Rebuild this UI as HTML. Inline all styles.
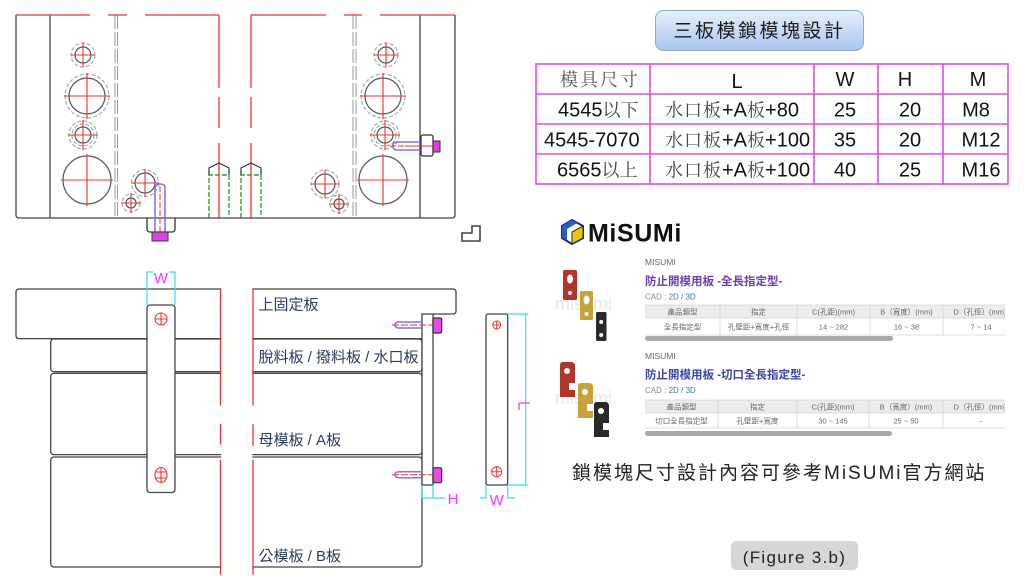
<!DOCTYPE html>
<html><head><meta charset="utf-8">
<style>
html,body{margin:0;padding:0;background:#fff;}
svg{display:block;}
.cj{font-family:"Liberation Sans","Noto Sans CJK TC",sans-serif;}
.sf{font-family:"Noto Serif CJK SC",serif;}
.sa{font-family:"Liberation Sans",sans-serif;}
</style></head>
<body>
<svg width="1024" height="576" viewBox="0 0 1024 576" xmlns="http://www.w3.org/2000/svg">
<defs>
<linearGradient id="btn" x1="0" y1="0" x2="0" y2="1">
<stop offset="0" stop-color="#e6f0fc"/><stop offset="1" stop-color="#a9c5ee"/>
</linearGradient>
<clipPath id="tc"><rect x="640" y="300" width="365" height="140"/></clipPath>
</defs>

<!-- ============ TOP DRAWING ============ -->
<g fill="none" stroke="#999" stroke-width="1" stroke-dasharray="14 3">
<line x1="115" y1="15" x2="115" y2="218"/><line x1="117.5" y1="15" x2="117.5" y2="218"/>
<line x1="353" y1="15" x2="353" y2="218"/><line x1="356" y1="15" x2="356" y2="218"/>
</g>
<g fill="none" stroke="#444" stroke-width="1.3">
<path d="M16,15 V215 Q16,218 19,218 H452 Q455,218 455,215 V15"/>
<line x1="50" y1="15" x2="50" y2="218"/>
<line x1="420" y1="15" x2="420" y2="218"/>
<path d="M462,233 H472 V226 H480 V241 H462 Z" stroke-width="1.6"/>
</g>
<g stroke="#f03030" stroke-width="1.3" fill="none">
<line x1="16" y1="15" x2="90" y2="15"/><line x1="108" y1="15" x2="127" y2="15"/><line x1="145" y1="15" x2="219" y2="15"/>
<line x1="251" y1="15" x2="326" y2="15"/><line x1="344" y1="15" x2="362" y2="15"/><line x1="380" y1="15" x2="455" y2="15"/>
<line x1="219" y1="15" x2="219" y2="88"/><line x1="219" y1="97" x2="219" y2="128"/><line x1="219" y1="143" x2="219" y2="218"/>
<line x1="251" y1="15" x2="251" y2="88"/><line x1="251" y1="97" x2="251" y2="128"/><line x1="251" y1="143" x2="251" y2="218"/>
</g>
<!-- circles -->
<g fill="none">
<g stroke="#aaa" stroke-width="1.2" stroke-dasharray="4 2">
<circle cx="83" cy="55" r="12"/><circle cx="87" cy="96" r="22"/><circle cx="83" cy="135" r="14"/><circle cx="83" cy="135" r="11"/>
<circle cx="145" cy="183" r="13.5"/><circle cx="131" cy="203" r="9"/>
<circle cx="386" cy="55" r="12"/><circle cx="383" cy="96" r="22"/><circle cx="385" cy="135" r="14"/><circle cx="385" cy="135" r="11"/>
<circle cx="325" cy="184" r="14"/><circle cx="339" cy="204" r="9"/>
</g>
<g stroke="#555" stroke-width="1.2">
<circle cx="83" cy="55" r="8"/><circle cx="87" cy="96" r="18"/><circle cx="83" cy="135" r="8"/><circle cx="87" cy="180" r="24"/>
<circle cx="145" cy="183" r="10"/><circle cx="131" cy="203" r="5"/>
<circle cx="386" cy="55" r="8"/><circle cx="383" cy="96" r="18"/><circle cx="385" cy="135" r="8"/><circle cx="383" cy="180" r="24"/>
<circle cx="325" cy="184" r="10"/><circle cx="339" cy="204" r="5"/>
</g>
<g stroke="#f03030" stroke-width="1.1">
<path d="M71,55H95M83,43V67"/><path d="M64,96H110M87,73V119"/><path d="M68,135H98M83,120V150"/><path d="M61,180H113M87,154V206"/>
<path d="M131,183H159M145,169V197"/><path d="M121,203H141M131,193V213"/>
<path d="M374,55H398M386,43V67"/><path d="M360,96H406M383,73V119"/><path d="M370,135H400M385,120V150"/><path d="M357,180H409M383,154V206"/>
<path d="M311,184H339M325,170V198"/><path d="M329,204H349M339,194V214"/>
</g>
</g>
<!-- left bolt -->
<g fill="none">
<path d="M155,232 V188 Q155,184 160,184 Q165,184 165,188 V232" stroke="#8a70e8" stroke-width="1.6"/>
<line x1="160" y1="186" x2="160" y2="240" stroke="#f03030" stroke-width="1" stroke-dasharray="6 2"/>
<path d="M147,218 V229 Q147,232 150,232 H172 Q175,232 175,229 V218" stroke="#333" stroke-width="1.3"/>
<rect x="152" y="232" width="16" height="9" fill="#e040e0" stroke="#333" stroke-width="1"/>
</g>
<!-- right bolt -->
<g fill="none">
<path d="M421,142 H397 Q393,142 393,146 Q393,150 397,150 H421" stroke="#8a70e8" stroke-width="1.6"/>
<line x1="390" y1="146" x2="440" y2="146" stroke="#f03030" stroke-width="1" stroke-dasharray="6 2"/>
<rect x="421" y="135" width="12" height="21" rx="2" stroke="#333" stroke-width="1.3" fill="#fff"/>
<line x1="405" y1="146" x2="433" y2="146" stroke="#f03030" stroke-width="1"/>
<rect x="433" y="141" width="7" height="11" fill="#e040e0" stroke="#333" stroke-width="1"/>
</g>
<!-- drill holes -->
<g fill="none">
<g stroke="#2aa82a" stroke-width="1.4" stroke-dasharray="5 2">
<path d="M209,218 V175 H229 V218"/><path d="M241,218 V175 H261 V218"/>
</g>
<g stroke="#333" stroke-width="1.2">
<path d="M209,175 V168 L219,163 L229,168 V175"/><path d="M241,175 V168 L251,163 L261,168 V175"/>
</g>
</g>

<!-- ============ BOTTOM DRAWING ============ -->
<g fill="none" stroke="#444" stroke-width="1.3">
<path d="M433,314 H453 Q456,314 456,311 V292 Q456,289 453,289 H19 Q16,289 16,292 V335.6 Q16,338.6 19,338.6 H422"/>
<rect x="50.7" y="339" width="371.3" height="32.7" rx="3"/>
<rect x="50.7" y="373.4" width="371.3" height="81.2" rx="3"/>
<rect x="50.7" y="457" width="371.3" height="110" rx="3"/>
</g>
<rect x="221.3" y="280" width="31" height="296" fill="#fff"/>
<g stroke="#f03030" stroke-width="1.3">
<line x1="220.5" y1="289" x2="220.5" y2="405.6"/><line x1="220.5" y1="424" x2="220.5" y2="444.5"/><line x1="220.5" y1="459.7" x2="220.5" y2="574.6"/>
<line x1="253" y1="289" x2="253" y2="405.6"/><line x1="253" y1="424" x2="253" y2="446"/><line x1="253" y1="459.7" x2="253" y2="574.6"/>
</g>
<!-- vertical lock block -->
<rect x="147" y="305" width="28" height="187.5" rx="3" fill="#fff" stroke="#444" stroke-width="1.3"/>
<g fill="none" stroke="#f03030" stroke-width="1.1">
<circle cx="161" cy="319" r="6"/><path d="M155,319H167M161,313V325"/>
<ellipse cx="161" cy="475" rx="6" ry="7.5"/><path d="M155,472H167M155,478H167M161,467.5V482.5"/>
</g>
<!-- W dim top -->
<g stroke="#2ee0f0" stroke-width="1.2" fill="none">
<path d="M147,305 V272 H153"/><path d="M175,305 V272 H169"/>
</g>
<text x="161" y="283" text-anchor="middle" class="sa" font-size="15" fill="#ff30ff">W</text>
<!-- labels -->
<g class="cj" font-size="15" fill="#2c3b5c">
<text x="258.5" y="309.5">上固定板</text>
<text x="258.5" y="362">脫料板 / 撥料板 / 水口板</text>
<text x="258.5" y="445">母模板 / A板</text>
<text x="258.5" y="561">公模板 / B板</text>
</g>
<!-- side block -->
<rect x="422" y="314" width="11" height="171" fill="#fff" stroke="#444" stroke-width="1.3"/>
<g fill="none">
<path d="M422,322 H399 Q395,322 395,325 Q395,328 399,328 H422" stroke="#8a70e8" stroke-width="1.5"/>
<line x1="392" y1="325" x2="441" y2="325" stroke="#f03030" stroke-width="1" stroke-dasharray="7 2"/>
<rect x="433" y="318" width="8.7" height="15" rx="1.5" fill="#e84ae8" stroke="#333" stroke-width="1.2"/>
<path d="M422,471.7 H399 Q395,471.7 395,474.7 Q395,477.7 399,477.7 H422" stroke="#8a70e8" stroke-width="1.5"/>
<line x1="392" y1="474.7" x2="441" y2="474.7" stroke="#f03030" stroke-width="1" stroke-dasharray="7 2"/>
<rect x="433" y="467.7" width="8.7" height="15" rx="1.5" fill="#e84ae8" stroke="#333" stroke-width="1.2"/>
</g>
<g stroke="#2ee0f0" stroke-width="1.2" fill="none">
<path d="M422,485 V498 H445"/><path d="M433,485 V498"/>
</g>
<text x="453" y="504" text-anchor="middle" class="sa" font-size="15" fill="#ff30ff">H</text>
<!-- front view block -->
<rect x="486" y="314" width="21.7" height="171" rx="2" fill="#fff" stroke="#444" stroke-width="1.3"/>
<g fill="none" stroke="#f03030" stroke-width="1">
<circle cx="496.7" cy="325" r="4"/><path d="M492.7,325H500.7M496.7,321V329"/>
<circle cx="496.7" cy="471.7" r="5"/><path d="M491.7,471.7H501.7M496.7,466.7V476.7"/>
</g>
<g stroke="#2ee0f0" stroke-width="1.2" fill="none">
<path d="M507.7,314 H528 M507.7,485 H528 M525.7,314 V485"/>
<path d="M486,485 V498 H480 M507.7,485 V498 H515"/>
</g>
<g stroke="#ff30ff" stroke-width="1.3" fill="none"><path d="M519,403 H530 M519,403 V410"/></g>
<text x="496.7" y="505" text-anchor="middle" class="sa" font-size="15" fill="#ff30ff">W</text>

<!-- ============ TITLE BUTTON ============ -->
<rect x="655.5" y="10.5" width="208" height="40" rx="8" fill="url(#btn)" stroke="#8aa9d6" stroke-width="1"/>
<text x="759.5" y="37" text-anchor="middle" class="cj" font-size="19" letter-spacing="2.5" fill="#1a1a1a">三板模鎖模塊設計</text>

<!-- ============ PINK TABLE ============ -->
<g stroke="#e24de2" stroke-width="1.6" fill="none">
<rect x="536" y="64" width="472" height="120"/>
<line x1="536" y1="94" x2="1008" y2="94"/><line x1="536" y1="124" x2="1008" y2="124"/><line x1="536" y1="154" x2="1008" y2="154"/>
<line x1="650" y1="64" x2="650" y2="184"/><line x1="814" y1="64" x2="814" y2="184"/><line x1="878" y1="64" x2="878" y2="184"/><line x1="943" y1="64" x2="943" y2="184"/>
</g>
<text x="560" y="86" class="sf" font-size="18" letter-spacing="2" fill="#555">模具尺寸</text>
<g class="sa" font-size="20" fill="#111" text-anchor="middle">
<text x="737" y="88">L</text><text x="845" y="86">W</text><text x="905" y="86">H</text><text x="978" y="86">M</text>
<text x="845" y="116.5">25</text><text x="910" y="116.5">20</text><text x="976" y="116.5">M8</text>
<text x="845" y="146.5">35</text><text x="910" y="146.5">20</text><text x="981" y="146.5">M12</text>
<text x="845" y="176.5">40</text><text x="910" y="176.5">25</text><text x="981" y="176.5">M16</text>
</g>
<g font-size="20" fill="#111">
<text x="558" y="116.5"><tspan class="sa">4545</tspan><tspan class="sf" font-size="18" fill="#444">以下</tspan></text>
<text x="544" y="146.5" class="sa">4545-7070</text>
<text x="557" y="176.5"><tspan class="sa">6565</tspan><tspan class="sf" font-size="18" fill="#444">以上</tspan></text>
<text x="665" y="116.5"><tspan class="sf" font-size="18" letter-spacing="1" fill="#444">水口板</tspan><tspan class="sa">+A</tspan><tspan class="sf" font-size="18" fill="#444">板</tspan><tspan class="sa">+80</tspan></text>
<text x="665" y="146.5"><tspan class="sf" font-size="18" letter-spacing="1" fill="#444">水口板</tspan><tspan class="sa">+A</tspan><tspan class="sf" font-size="18" fill="#444">板</tspan><tspan class="sa">+100</tspan></text>
<text x="665" y="176.5"><tspan class="sf" font-size="18" letter-spacing="1" fill="#444">水口板</tspan><tspan class="sa">+A</tspan><tspan class="sf" font-size="18" fill="#444">板</tspan><tspan class="sa">+100</tspan></text>
</g>

<!-- ============ MISUMI ============ -->
<polygon points="562,226 572,220 583,226 583,238 572,244 562,238" fill="#fff" stroke="#1d2a6b" stroke-width="2"/>
<polygon points="562,226 572,220 577,223 567,229" fill="#2a5cc8"/>
<polygon points="562,226 567,229 567,240 562,238" fill="#2a5cc8"/>
<polygon points="572,232 583,226 583,238 572,244" fill="#f2c500" stroke="#1d2a6b" stroke-width="1"/>
<text x="588" y="241.5" class="sa" font-size="25" font-weight="bold" letter-spacing="0.6" fill="#111">MiSUMi</text>

<!-- product 1 image -->
<text x="555" y="310" class="sa" font-size="18" fill="#e8e8e8">misumi</text>
<rect x="563" y="270" width="14" height="30" rx="1.5" fill="#b5342a"/>
<ellipse cx="570" cy="279" rx="3" ry="4.5" fill="#fff"/><circle cx="570" cy="293" r="2" fill="#fff"/>
<rect x="580" y="291" width="13" height="29" rx="1.5" fill="#c9a13a"/>
<ellipse cx="586.5" cy="300" rx="3" ry="4.5" fill="#fff"/><circle cx="586.5" cy="314" r="2" fill="#fff"/>
<rect x="596" y="312" width="10.5" height="29" rx="1.5" fill="#2a2a2a"/>
<circle cx="601.2" cy="322" r="2" fill="#fff"/><circle cx="601.2" cy="335" r="2" fill="#fff"/>

<!-- product 2 image -->
<text x="555" y="404" class="sa" font-size="18" fill="#e8e8e8">misumi</text>
<path d="M560,365 Q560,362 563,362 H571 Q575,362 575,366 V383 H569 V390 H575 V397 H560 Z" fill="#b5342a"/>
<circle cx="567" cy="371" r="3" fill="#fff"/>
<path d="M578,386 Q578,383 581,383 H589 Q593,383 593,387 V404 H587 V411 H593 V418 H578 Z" fill="#c9a13a"/>
<circle cx="585" cy="392" r="3" fill="#fff"/>
<path d="M594,405 Q594,402 597,402 H605 Q609,402 609,406 V423 H603 V430 H609 V437 H594 Z" fill="#2a2a2a"/>
<circle cx="601" cy="411" r="3" fill="#fff"/>

<!-- product 1 text -->
<g class="cj">
<text x="645" y="265" font-size="8.5" fill="#666">MISUMI</text>
<text x="645" y="285" font-size="11.5" font-weight="bold" fill="#6a3fb5">防止開模用板 -全長指定型-</text>
<text x="645" y="299.5" font-size="8" fill="#888">CAD : <tspan fill="#3a6fc0">2D / 3D</tspan></text>
<text x="645" y="359" font-size="8.5" fill="#666">MISUMI</text>
<text x="645" y="378.5" font-size="11.5" font-weight="bold" fill="#3d46a8">防止開模用板 -切口全長指定型-</text>
<text x="645" y="393" font-size="8" fill="#888">CAD : <tspan fill="#3a6fc0">2D / 3D</tspan></text>
</g>
<g clip-path="url(#tc)">
<rect x="645" y="305" width="365" height="13" fill="#ececec"/>
<rect x="645" y="400" width="365" height="13" fill="#ececec"/>
<g stroke="#d2d2d2" stroke-width="0.8">
<line x1="645" y1="305" x2="1010" y2="305"/><line x1="645" y1="318" x2="1010" y2="318"/><line x1="645" y1="335" x2="1010" y2="335"/>
<line x1="720" y1="305" x2="720" y2="335"/><line x1="797" y1="305" x2="797" y2="335"/><line x1="870" y1="305" x2="870" y2="335"/><line x1="943" y1="305" x2="943" y2="335"/>
<line x1="645" y1="400" x2="1010" y2="400"/><line x1="645" y1="413" x2="1010" y2="413"/><line x1="645" y1="428" x2="1010" y2="428"/>
<line x1="718" y1="400" x2="718" y2="428"/><line x1="797" y1="400" x2="797" y2="428"/><line x1="869" y1="400" x2="869" y2="428"/><line x1="943" y1="400" x2="943" y2="428"/>
</g>
<g class="cj" font-size="7.5" fill="#666" text-anchor="middle">
<text x="682.5" y="314.5">產品類型</text><text x="758.5" y="314.5">指定</text><text x="833.5" y="314.5">C(孔距)(mm)</text><text x="906.5" y="314.5">B（寬度）(mm)</text><text x="980" y="314.5">D（孔徑）(mm)</text>
<text x="682.5" y="329.5">全長指定型</text><text x="758.5" y="329.5">孔壁距+寬度+孔徑</text><text x="833.5" y="329.5">14 ~ 282</text><text x="906.5" y="329.5">16 ~ 38</text><text x="981" y="329.5">7 ~ 14</text>
<text x="681.5" y="409.5">產品類型</text><text x="757.5" y="409.5">指定</text><text x="833" y="409.5">C(孔距)(mm)</text><text x="906" y="409.5">B（寬度）(mm)</text><text x="980" y="409.5">D（孔徑）(mm)</text>
<text x="681.5" y="423.5">切口全長指定型</text><text x="757.5" y="423.5">孔壁距+寬度</text><text x="833" y="423.5">30 ~ 145</text><text x="906" y="423.5">25 ~ 50</text><text x="981" y="423.5">-</text>
</g>
</g>
<rect x="645" y="336" width="248" height="5" rx="2.5" fill="#a9a9a9"/>
<rect x="645" y="431" width="247" height="5" rx="2.5" fill="#a9a9a9"/>

<!-- bottom text -->
<text x="572" y="479" class="cj" font-size="19" letter-spacing="2" fill="#222">鎖模塊尺寸設計內容可參考MiSUMi官方網站</text>
<rect x="731" y="541" width="127" height="29" rx="5" fill="#d6d6d6"/>
<text x="794.5" y="562.8" text-anchor="middle" class="sa" font-size="17" letter-spacing="1.3" fill="#222">(Figure 3.b)</text>
</svg>
</body></html>
